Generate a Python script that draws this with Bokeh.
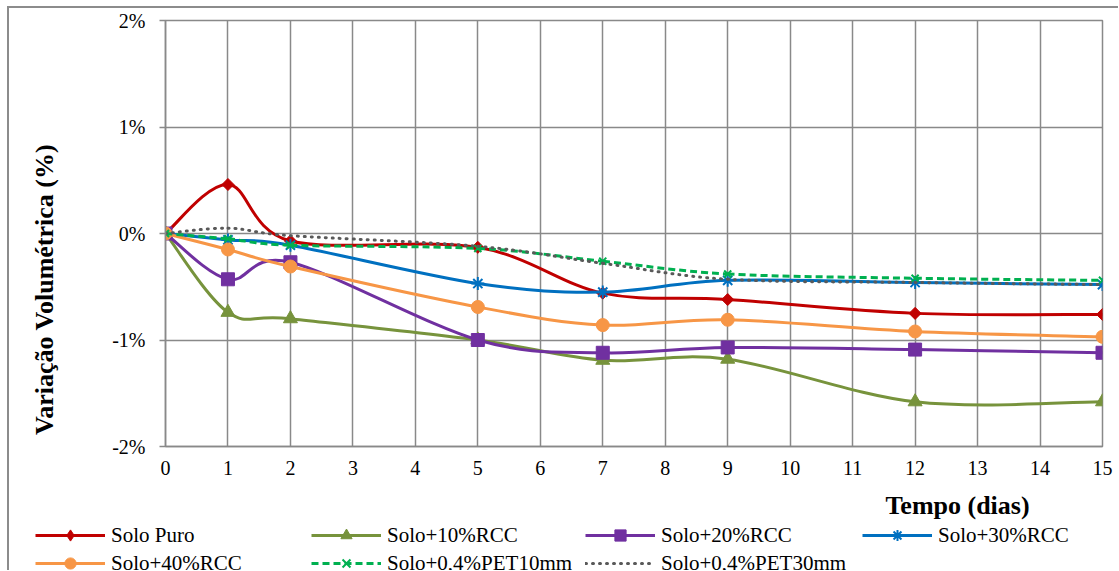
import numpy as np
from bokeh.plotting import figure
from bokeh.layouts import column, row
from bokeh.models import (Range1d, FixedTicker, PrintfTickFormatter, Legend,
                          LegendItem, Label)
from bokeh.embed import file_html
from bokeh.resources import INLINE

# ---------------- data ----------------
dias = [0, 1, 2, 5, 7, 9, 12, 15]
solo_puro = [0.0, 0.46, -0.07, -0.13, -0.56, -0.62, -0.75, -0.76]
solo_rcc10 = [0.0, -0.74, -0.80, -1.00, -1.19, -1.18, -1.58, -1.58]
solo_rcc20 = [0.0, -0.43, -0.27, -1.00, -1.12, -1.07, -1.09, -1.12]
solo_rcc30 = [0.0, -0.06, -0.11, -0.47, -0.55, -0.44, -0.46, -0.48]
solo_rcc40 = [0.0, -0.15, -0.31, -0.69, -0.86, -0.81, -0.92, -0.97]
solo_pet10 = [0.0, -0.05, -0.11, -0.14, -0.26, -0.38, -0.42, -0.44]
solo_pet30 = [0.0, 0.05, -0.02, -0.12, -0.28, -0.43, -0.46, -0.48]

x_ticks = list(range(0, 16))
y_ticks = [-2, -1, 0, 1, 2]

DOT = "1 6"
# name, values, colour, chart marker, legend marker, size, angle, dash
series = [
    ("Solo Puro", solo_puro, "#C00000", "square", "diamond", 8.5, np.pi / 4, "solid"),
    ("Solo+10%RCC", solo_rcc10, "#77933C", "triangle", "triangle", 14, 0, "solid"),
    ("Solo+20%RCC", solo_rcc20, "#7030A0", "square", "square", 13, 0, "solid"),
    ("Solo+30%RCC", solo_rcc30, "#0070C0", "asterisk", "asterisk", 13, 0, "solid"),
    ("Solo+40%RCC", solo_rcc40, "#F79646", "circle", "circle", 13, 0, "solid"),
    ("Solo+0,4%PET10mm", solo_pet10, "#00B050", "x", "x", 10, 0, "7 4"),
    ("Solo+0,4%PET30mm", solo_pet30, "#595959", None, None, 0, 0, DOT),
]

FONT = "Liberation Serif"
GRID = "#898989"

YLAB_W, MAIN_W, TOP_H, BOT_H = 60, 1049, 482, 80


def blank_fig(w, h):
    f = figure(width=w, height=h, output_backend="svg", toolbar_location=None,
               x_range=Range1d(0, w), y_range=Range1d(0, h),
               x_axis_type=None, y_axis_type=None,
               min_border_left=0, min_border_right=0, min_border_top=0,
               min_border_bottom=0)
    f.grid.visible = False
    f.outline_line_color = None
    f.background_fill_color = "white"
    f.border_fill_color = "white"
    f.frame_align = False
    return f


# ---------------- main chart ----------------
p = figure(width=MAIN_W, height=TOP_H, output_backend="svg",
           toolbar_location=None,
           x_range=Range1d(0, 15), y_range=Range1d(-2, 2),
           min_border_left=96, min_border_right=16,
           min_border_top=12, min_border_bottom=44)
p.frame_align = False
p.background_fill_color = "white"
p.border_fill_color = "white"
p.outline_line_color = GRID
p.outline_line_width = 1.5

for ax in (p.xaxis[0], p.yaxis[0]):
    ax.axis_line_color = GRID
    ax.axis_line_width = 1.5
    ax.major_tick_line_color = GRID
    ax.major_tick_line_width = 1.5
    ax.minor_tick_line_color = None
    ax.major_label_text_font = FONT
    ax.major_label_text_font_size = "20px"
    ax.major_label_text_color = "black"

p.xaxis.ticker = FixedTicker(ticks=x_ticks)
p.xaxis.major_tick_in = 0
p.xaxis.major_tick_out = 0
p.xaxis.major_label_standoff = 14
p.yaxis.ticker = FixedTicker(ticks=y_ticks)
p.yaxis.formatter = PrintfTickFormatter(format="%d%%")
p.yaxis.major_tick_in = 0
p.yaxis.major_tick_out = 6
p.yaxis.major_label_standoff = 14

p.xgrid.ticker = FixedTicker(ticks=x_ticks)
p.ygrid.ticker = FixedTicker(ticks=y_ticks)
for g in (p.xgrid[0], p.ygrid[0]):
    g.grid_line_color = GRID
    g.grid_line_width = 1.5


def bezier_controls(xs, ys):
    x = np.asarray(xs, float)
    y = np.asarray(ys, float)
    n = len(x)
    xp = np.concatenate([[x[0]], x, [x[-1]]])
    yp = np.concatenate([[y[0]], y, [y[-1]]])
    cx0 = xp[1:n] + (xp[2:n + 1] - xp[0:n - 1]) / 6
    cy0 = yp[1:n] + (yp[2:n + 1] - yp[0:n - 1]) / 6
    cx1 = xp[2:n + 1] - (xp[3:n + 2] - xp[1:n]) / 6
    cy1 = yp[2:n + 1] - (yp[3:n + 2] - yp[1:n]) / 6
    return dict(x0=x[:-1], y0=y[:-1], x1=x[1:], y1=y[1:],
                cx0=cx0, cy0=cy0, cx1=cx1, cy1=cy1)


# ---------------- y-axis title strip ----------------
ylab = blank_fig(YLAB_W, TOP_H)
ylab.add_layout(Label(x=35, y=201, text="Variação Volumétrica (%)",
                      angle=np.pi / 2, text_align="center",
                      text_baseline="middle", text_font=FONT,
                      text_font_style="bold", text_font_size="26px",
                      text_color="black"))

# ---------------- x-axis title + legend strip ----------------
q = blank_fig(YLAB_W + MAIN_W, BOT_H)
q.extra_x_ranges = {"off": Range1d(1000, 1001)}
q.add_layout(Label(x=948, y=65, text="Tempo (dias)", text_align="center",
                   text_baseline="middle", text_font=FONT,
                   text_font_style="bold", text_font_size="26px",
                   text_color="black"))

legend_items = []
for name, vals, color, marker, lmarker, size, angle, dash in series:
    c = bezier_controls(dias, vals)
    cap = "round" if dash == DOT else "butt"
    p.bezier(**c, line_color=color, line_width=3, line_dash=dash, line_cap=cap)
    # legend proxies: same data, drawn off-frame in the legend strip
    rends = [q.line(x=dias, y=vals, x_range_name="off", line_color=color,
                    line_width=3, line_dash=dash, line_cap=cap)]
    if marker is not None:
        lw = 2 if marker in ("asterisk", "x") else 1
        p.scatter(x=dias, y=vals, marker=marker, size=size, angle=angle,
                  fill_color=color, line_color=color, line_width=lw)
        rends.append(q.scatter(x=dias, y=vals, x_range_name="off",
                               marker=lmarker, fill_color=color,
                               line_color=color, line_width=lw))
    legend_items.append(LegendItem(label=name, renderers=rends))

col_offsets = [26, 302, 576, 853]
for i, off in enumerate(col_offsets):
    items = [legend_items[i]]
    if i + 4 < len(legend_items):
        items.append(legend_items[i + 4])
    vy = -7 if len(items) == 2 else 21
    lg = Legend(items=items, location=(off, vy), orientation="vertical",
                padding=0, margin=0, spacing=0,
                glyph_width=70, glyph_height=28, label_height=28,
                label_standoff=6, border_line_alpha=0,
                background_fill_alpha=0,
                label_text_font=FONT, label_text_font_size="21px",
                label_text_color="black")
    q.add_layout(lg)

layout = column(row(ylab, p, spacing=0), q, spacing=0,
                styles={"border-top": "2px solid #8c8c8c",
                        "border-left": "2px solid #8c8c8c",
                        "margin-left": "7px", "margin-top": "6px"})

open("out.html", "w").write(file_html(layout, INLINE))
